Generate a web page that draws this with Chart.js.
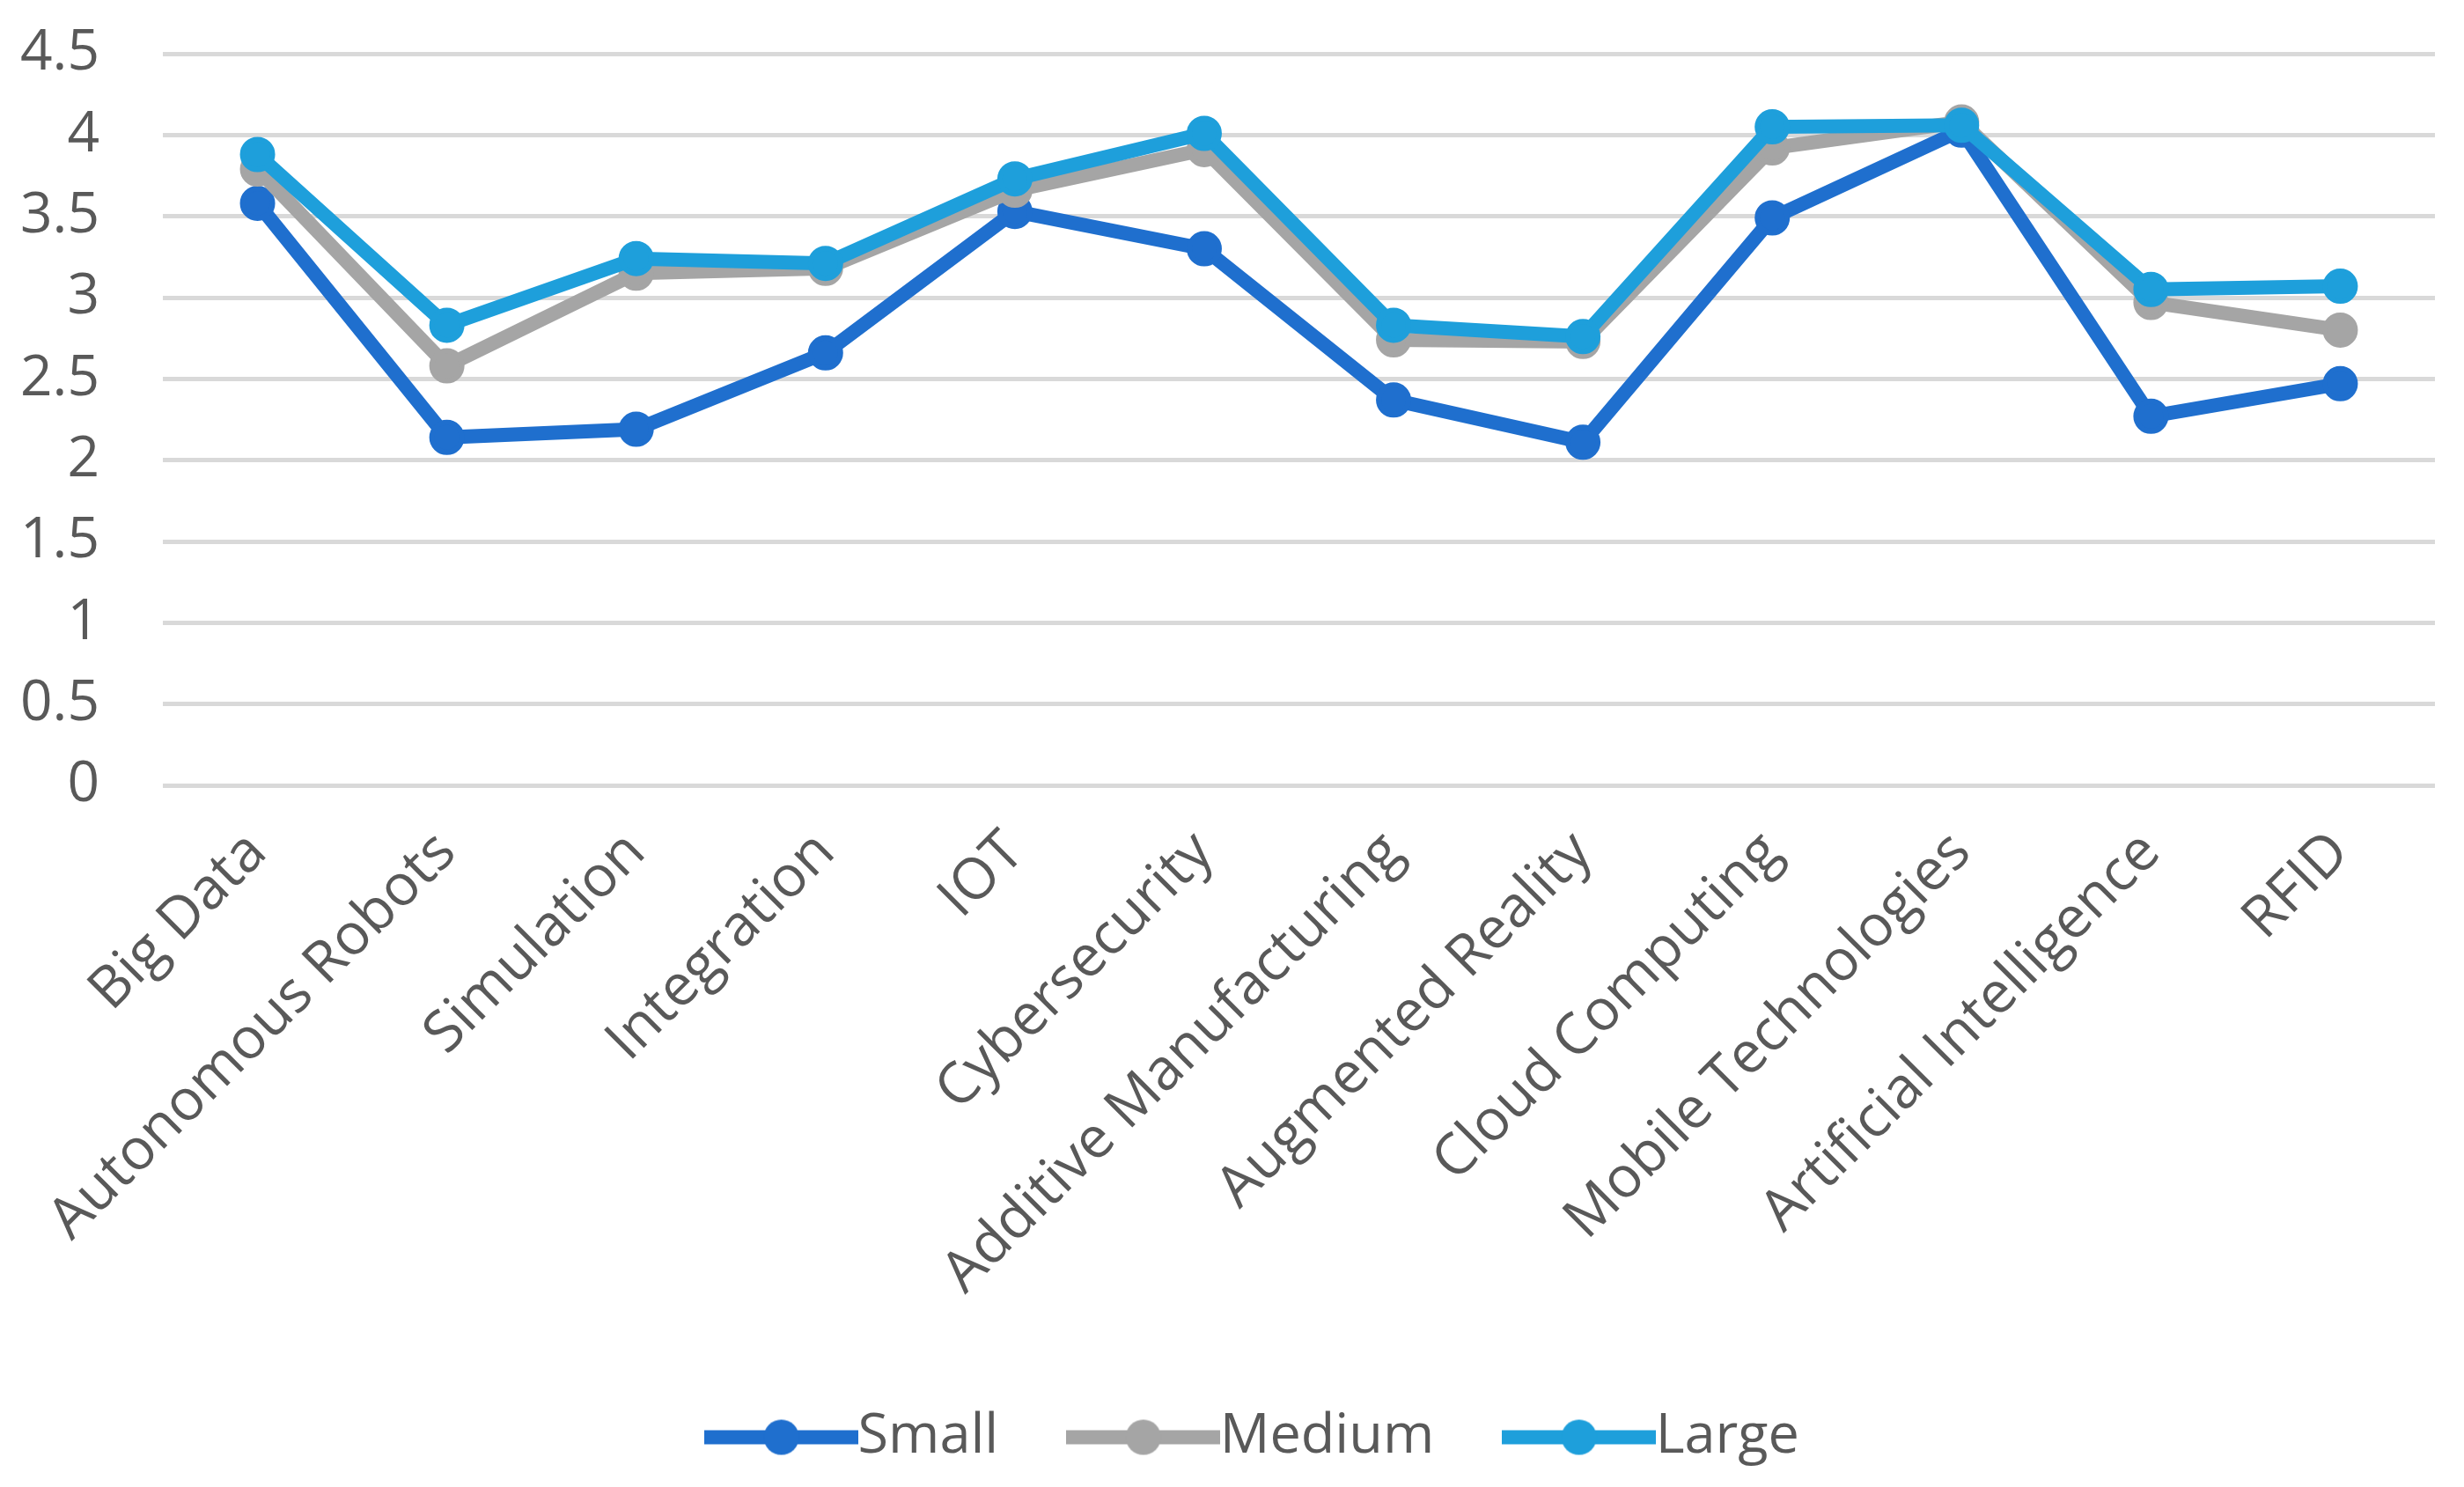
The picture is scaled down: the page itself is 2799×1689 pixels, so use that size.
<!DOCTYPE html>
<html>
<head>
<meta charset="utf-8">
<script src="https://cdn.jsdelivr.net/npm/chart.js@4.4.1/dist/chart.umd.min.js"></script>
<style>
  html, body { margin: 0; padding: 0; background: #ffffff; }
  #wrap { width: 2799px; height: 1689px; position: relative; }
</style>
</head>
<body>
<div id="wrap"><canvas id="c" width="2799" height="1689"></canvas></div>
<script>
const categories = ["Big Data", "Autonomous Robots", "Simulation", "Integration", "IOT", "Cybersecurity",
  "Additive Manufacturing", "Augmented Reality", "Cloud Computing", "Mobile Technologies",
  "Artificial Intelligence", "RFID"];
const seriesNames = ["Small", "Medium", "Large"];
const smallValues  = [3.58, 2.14, 2.19, 2.66, 3.53, 3.30, 2.37, 2.11, 3.49, 4.03, 2.27, 2.47];
const mediumValues = [3.79, 2.58, 3.15, 3.18, 3.66, 3.91, 2.74, 2.73, 3.92, 4.08, 2.97, 2.80];
const largeValues  = [3.88, 2.83, 3.24, 3.21, 3.73, 4.01, 2.83, 2.76, 4.05, 4.06, 3.05, 3.07];
const yTicks = [0, 0.5, 1, 1.5, 2, 2.5, 3, 3.5, 4, 4.5];

const colors = ["#1F6FCE", "#A5A5A5", "#1E9FDB"];
const FONT = "'Open Sans', 'DejaVu Sans', sans-serif";
const TEXT = "#595959";

function legendImage(color) {
  const c = document.createElement('canvas');
  c.width = 175; c.height = 44;
  const g = c.getContext('2d');
  g.strokeStyle = color; g.lineWidth = 16; g.lineCap = 'butt';
  g.beginPath(); g.moveTo(0, 22); g.lineTo(175, 22); g.stroke();
  g.fillStyle = color;
  g.beginPath(); g.arc(87.5, 22, 20, 0, Math.PI * 2); g.fill();
  return c;
}
const legendImgs = colors.map(legendImage);

const valueSets = [smallValues, mediumValues, largeValues];
const datasets = seriesNames.map((name, i) => ({
  label: name,
  data: valueSets[i],
  borderColor: colors[i],
  backgroundColor: colors[i],
  pointBackgroundColor: colors[i],
  pointBorderColor: colors[i],
  borderWidth: 16,
  pointRadius: 17,
  pointBorderWidth: 6,
  tension: 0,
  order: 3 - i,
  clip: false
}));

const legendShift = {
  id: 'legendShift',
  afterLayout(chart) {
    if (chart.legend) { chart.legend.left += 55; chart.legend.right += 55; }
  }
};

new Chart(document.getElementById('c'), {
  type: 'line',
  data: { labels: categories, datasets },
  plugins: [legendShift],
  options: {
    responsive: false,
    animation: false,
    devicePixelRatio: 1,
    layout: { padding: { top: 61, right: 33, bottom: 15, left: 0 } },
    plugins: {
      tooltip: { enabled: false },
      legend: {
        position: 'bottom',
        labels: {
          usePointStyle: true,
          pointStyleWidth: 111,
          padding: 109,
          color: TEXT,
          font: { family: FONT, size: 63 },
          generateLabels(chart) {
            return chart.data.datasets.map((ds, i) => ({
              text: ds.label,
              pointStyle: legendImgs[i],
              fillStyle: colors[i],
              strokeStyle: colors[i],
              lineWidth: 0,
              fontColor: TEXT,
              hidden: false,
              datasetIndex: i
            }));
          }
        }
      }
    },
    scales: {
      x: {
        offset: true,
        grid: { display: false, drawTicks: false },
        border: { display: false },
        ticks: {
          autoSkip: false, maxRotation: 45, minRotation: 45, padding: 38,
          color: TEXT, font: { family: FONT, size: 65 }
        },
        afterFit(scale) { scale.height = 600; }
      },
      y: {
        min: 0, max: 4.5,
        afterBuildTicks(scale) { scale.ticks = yTicks.map(v => ({ value: v })); },
        grid: { color: "#D9D9D9", lineWidth: 5, drawTicks: true, tickLength: 62, tickColor: 'rgba(0,0,0,0)' },
        border: { display: false },
        ticks: {
          padding: 10, color: TEXT, font: { family: FONT, size: 64 },
          callback: (v) => String(v)
        },
        afterFit(scale) { scale.width = 185; }
      }
    }
  }
});
</script>
</body>
</html>
